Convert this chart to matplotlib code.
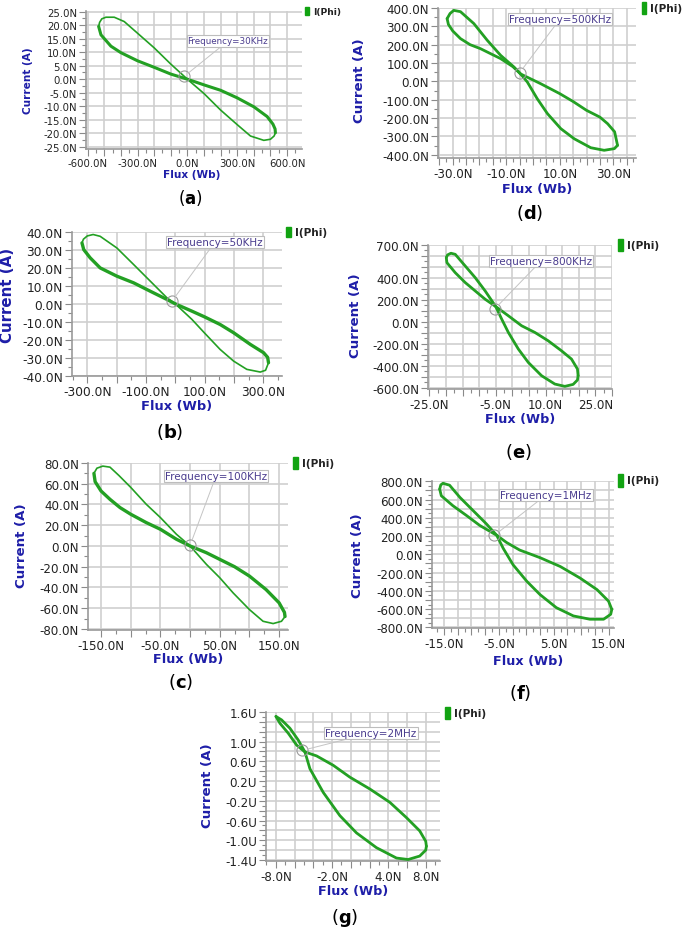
import numpy as np
import matplotlib
matplotlib.use("Agg")
import matplotlib.pyplot as plt
from matplotlib.ticker import MultipleLocator, FuncFormatter
from matplotlib.patches import Rectangle

W, H = 685, 929

# ---- loop data (flux, current) ----
# "flat" branch: left tip -> pinch -> right tip along the shallow edges
# "steep" branch: left tip -> top -> pinch -> bottom -> right tip
a_flat_x = [-534, -520, -460, -400, -300, -200, -100, 0, 100, 200, 300, 400, 480, 515, 528, 530]
a_flat_y = [19.5, 16.4, 12.2, 9.8, 6.8, 4.4, 1.9, 0, -2.1, -4.1, -6.9, -10.2, -13.8, -16.6, -18.4, -19.8]
a_steep_x = [-534, -528, -515, -490, -440, -380, -300, -200, -100, 0, 100, 200, 300, 380, 460, 500, 522, 530]
a_steep_y = [19.5, 21.0, 22.3, 22.9, 22.9, 21.3, 17.0, 11.6, 5.6, 0, -5.3, -11.4, -16.8, -21.0, -22.6, -22.2, -21.0, -19.8]

b_flat_x = [-318, -312, -290, -256, -199, -142, -85, -28, 0, 57, 99, 153, 199, 256, 301, 315, 318]
b_flat_y = [33.9, 30.2, 25.6, 20.0, 15.4, 11.7, 7.0, 2.4, 0, -4.1, -7.2, -11.5, -16.1, -22.6, -27.2, -29.8, -32.8]
b_steep_x = [-318, -313, -300, -280, -256, -199, -142, -85, -28, 0, 57, 99, 153, 199, 244, 290, 308, 318]
b_steep_y = [33.9, 36.0, 37.8, 38.6, 37.6, 31.1, 21.9, 12.6, 3.3, 0, -8.7, -16.1, -25.4, -31.9, -36.5, -38.0, -37.0, -32.8]

c_flat_x = [-162, -160, -150, -135, -118, -100, -74, -50, -23, 0, 27.5, 50, 75, 100, 128, 150, 159, 160]
c_flat_y = [70, 62, 53, 45, 37, 30.6, 22.6, 16.1, 6.5, 0, -6.5, -12.9, -20, -29, -42, -54.8, -64, -68]
c_steep_x = [-162, -157, -147, -135, -120, -100, -74, -50, -23, 0, 27.5, 50, 72.5, 100, 123, 140, 154, 160]
c_steep_y = [70, 75, 77, 76, 68, 56.5, 40.3, 27.4, 11.3, 0, -17.7, -30.6, -45.2, -61.3, -72.6, -74.8, -72.6, -68]

d_flat_x = [-32.1, -31.6, -30.0, -27.1, -23.5, -19.6, -12.1, -7.5, -4.6, 2.9, 10.0, 15.0, 20.0, 25.0, 27.9, 30.5, 31.6]
d_flat_y = [342, 310, 275, 233, 200, 178, 124, 80, 40, -13, -67, -110, -158, -195, -231, -275, -349]
d_steep_x = [-32.1, -31.0, -29.6, -27.1, -22.1, -17.1, -12.1, -7.1, -4.6, -2.1, 1.6, 5.4, 10.4, 15.4, 21.6, 26.6, 30.4, 31.6]
d_steep_y = [342, 370, 387, 380, 315, 224, 142, 78, 40, -4, -95, -176, -258, -313, -362, -376, -367, -349]

e_flat_x = [-19.9, -19.7, -17.2, -14.2, -11.2, -8.2, -5.0, -1.2, 2.8, 6.8, 10.8, 14.8, 17.8, 19.6, 19.8]
e_flat_y = [585, 539, 448, 358, 282, 206, 139, 55, -36, -97, -173, -264, -339, -430, -491]
e_steep_x = [-19.9, -19.5, -18.5, -17.2, -14.2, -11.2, -8.2, -5.0, -3.2, -1.2, 1.8, 4.8, 8.8, 12.8, 15.8, 18.3, 19.6, 19.8]
e_steep_y = [585, 610, 625, 615, 509, 403, 282, 139, 24, -97, -248, -370, -491, -567, -588, -570, -530, -491]

f_flat_x = [-15.8, -15.5, -13.4, -10.9, -8.5, -5.4, -3.6, -1.2, 2.5, 6.2, 9.8, 12.9, 15.0, 15.6]
f_flat_y = [714, 641, 533, 425, 317, 209, 130, 47, -36, -133, -259, -386, -512, -602]
f_steep_x = [-15.8, -15.6, -15.2, -14.0, -12.1, -9.7, -7.3, -5.4, -4.2, -2.4, 0.1, 2.5, 5.5, 8.6, 11.6, 14.1, 15.4, 15.6]
f_steep_y = [714, 760, 778, 757, 623, 479, 335, 209, 65, -115, -295, -440, -584, -674, -710, -710, -656, -602]

g_flat_x = [-7.98, -7.55, -6.67, -5.78, -4.89, -3.65, -1.88, -0.11, 2.02, 4.15, 5.92, 7.34, 7.98, 8.05]
g_flat_y = [1.51, 1.37, 1.17, 0.93, 0.79, 0.71, 0.52, 0.28, 0.04, -0.23, -0.54, -0.81, -1.02, -1.12]
g_steep_x = [-7.98, -7.38, -6.49, -5.60, -4.89, -4.36, -2.94, -1.17, 0.60, 2.73, 4.86, 6.10, 7.34, 7.98, 8.05]
g_steep_y = [1.51, 1.44, 1.27, 1.03, 0.79, 0.45, -0.03, -0.50, -0.85, -1.15, -1.36, -1.39, -1.32, -1.20, -1.12]

# pinch markers (flux, current)
pinch_pts = {"a": (-20, 1.0), "b": (-11, 1.5), "c": (0, 0.6), "d": (-5, 47),
             "e": (-5.2, 121), "f": (-5.8, 209), "g": (-5.2, 0.82)}

freq_text = {"a": "Frequency=30KHz", "b": "Frequency=50KHz", "c": "Frequency=100KHz",
             "d": "Frequency=500KHz", "e": "Frequency=800KHz", "f": "Frequency=1MHz",
             "g": "Frequency=2MHz"}

# tick labels shown on each axis
a_xlabels = [-600, -300, 0, 300, 600]
a_ylabels = [25, 20, 15, 10, 5, 0, -5, -10, -15, -20, -25]
b_xlabels = [-300, -100, 100, 300]
b_ylabels = [40, 30, 20, 10, 0, -10, -20, -30, -40]
c_xlabels = [-150, -50, 50, 150]
c_ylabels = [80, 60, 40, 20, 0, -20, -40, -60, -80]
d_xlabels = [-30, -10, 10, 30]
d_ylabels = [400, 300, 200, 100, 0, -100, -200, -300, -400]
e_xlabels = [-25, -5, 10, 25]
e_ylabels = [700, 400, 200, 0, -200, -400, -600]
f_xlabels = [-15, -5, 5, 15]
f_ylabels = [800, 600, 400, 200, 0, -200, -400, -600, -800]
g_xlabels = [-8, -2, 4, 8]
g_ylabels = [1.6, 1.0, 0.6, 0.2, -0.2, -0.6, -1.0, -1.4]

GREEN = "#23a023"
BLUE = "#1e1ea8"
GRID = "#cfcfcf"
ANN = "#4a3c8e"

# layout in reference pixels: box=(left, top, right, bottom)
panels = [
    dict(key="a", fx=a_flat_x, fy=a_flat_y, sx=a_steep_x, sy=a_steep_y,
         xl=a_xlabels, yl=a_ylabels, unit_y="N",
         box=(86, 12, 302, 150), xlim=(-610, 690), ylim=(-25.8, 25.2),
         xstep=100, ystep=5, lw=(2.2, 1.2), fs=7.3, afs=6.3, lfs=7.6, cfs=7.6,
         cur=(28, 81), flux=(192, 175), tag=(190, 198), tag_fs=12,
         leg=(305, 8, 309, 16), leg_fs=6.6, ann=(228, 42)),
    dict(key="d", fx=d_flat_x, fy=d_flat_y, sx=d_steep_x, sy=d_steep_y,
         xl=d_xlabels, yl=d_ylabels, unit_y="N",
         box=(438, 9, 636, 159), xlim=(-35.5, 38.5), ylim=(-418, 400),
         xstep=5, ystep=100, lw=(2.0, 2.0), fs=8.6, afs=7.5, lfs=9.2, cfs=9.6,
         cur=(360, 81), flux=(537, 189), tag=(530, 213), tag_fs=13,
         leg=(642, 3, 646, 15), leg_fs=7.6, ann=(560, 20)),
    dict(key="b", fx=b_flat_x, fy=b_flat_y, sx=b_steep_x, sy=b_steep_y,
         xl=b_xlabels, yl=b_ylabels, unit_y="N",
         box=(72, 233, 282, 377), xlim=(-352, 364), ylim=(-40.2, 40),
         xstep=100, ystep=10, lw=(2.4, 1.2), fs=8.8, afs=7.5, lfs=9.4, cfs=10.8,
         cur=(8, 295), flux=(177, 407), tag=(170, 432), tag_fs=13,
         leg=(286, 228, 291, 238), leg_fs=7.6, ann=(215, 243)),
    dict(key="e", fx=e_flat_x, fy=e_flat_y, sx=e_steep_x, sy=e_steep_y,
         xl=e_xlabels, yl=e_ylabels, unit_y="N",
         box=(428, 246, 612, 390), xlim=(-25.4, 30.0), ylim=(-612, 700),
         xstep=5, ystep=100, lw=(2.0, 2.0), fs=8.6, afs=7.5, lfs=9.2, cfs=9.6,
         cur=(355, 316), flux=(520, 420), tag=(518, 452), tag_fs=13,
         leg=(618, 240, 623, 252), leg_fs=7.6, ann=(541, 262)),
    dict(key="c", fx=c_flat_x, fy=c_flat_y, sx=c_steep_x, sy=c_steep_y,
         xl=c_xlabels, yl=c_ylabels, unit_y="N",
         box=(88, 464, 288, 631), xlim=(-172, 165), ylim=(-81, 80),
         xstep=50, ystep=20, lw=(2.4, 1.2), fs=8.6, afs=7.5, lfs=9.2, cfs=9.6,
         cur=(22, 546), flux=(188, 660), tag=(181, 682), tag_fs=13,
         leg=(293, 458, 298, 470), leg_fs=7.6, ann=(216, 477)),
    dict(key="f", fx=f_flat_x, fy=f_flat_y, sx=f_steep_x, sy=f_steep_y,
         xl=f_xlabels, yl=f_ylabels, unit_y="N",
         box=(432, 482, 614, 629), xlim=(-17.2, 16.0), ylim=(-806, 803),
         xstep=2.5, ystep=100, lw=(2.0, 2.0), fs=8.6, afs=7.5, lfs=9.2, cfs=9.6,
         cur=(357, 556), flux=(528, 662), tag=(520, 693), tag_fs=13,
         leg=(618, 475, 623, 488), leg_fs=7.6, ann=(546, 496)),
    dict(key="g", fx=g_flat_x, fy=g_flat_y, sx=g_steep_x, sy=g_steep_y,
         xl=g_xlabels, yl=g_ylabels, unit_y="U",
         box=(266, 713, 440, 862), xlim=(-9.04, 9.5), ylim=(-1.42, 1.60),
         xstep=2, ystep=0.2, lw=(2.0, 2.0), fs=8.6, afs=7.5, lfs=9.2, cfs=9.6,
         cur=(207, 786), flux=(353, 892), tag=(345, 918), tag_fs=13,
         leg=(445, 708, 450, 720), leg_fs=7.6, ann=(371, 734)),
]


def fx(x):
    return x / W


def fy(y):
    return 1 - y / H


def label_fmt(values, unit, step):
    def f(v, pos):
        for val in values:
            if abs(v - val) < step * 1e-3:
                s = "%.1f%s" % (val, unit)
                return s.replace("-0.0", "0.0")
        return ""
    return FuncFormatter(f)


plt.rcParams["font.family"] = ["DejaVu Sans"]
fig = plt.figure(figsize=(W / 100, H / 100), dpi=100)

for p in panels:
    l, t, r, b = p["box"]
    ax = fig.add_axes([fx(l), fy(b), (r - l) / W, (b - t) / H])
    ax.plot(p["fx"], p["fy"], color=GREEN, lw=p["lw"][0],
            solid_joinstyle="round", solid_capstyle="round", zorder=3)
    ax.plot(p["sx"], p["sy"], color=GREEN, lw=p["lw"][1],
            solid_joinstyle="round", solid_capstyle="round", zorder=3)
    ax.set_xlim(*p["xlim"])
    ax.set_ylim(*p["ylim"])

    ax.xaxis.set_major_locator(MultipleLocator(p["xstep"]))
    ax.xaxis.set_minor_locator(MultipleLocator(p["xstep"] / 2))
    ax.yaxis.set_major_locator(MultipleLocator(p["ystep"]))
    ax.yaxis.set_minor_locator(MultipleLocator(p["ystep"] / 2))
    ax.xaxis.set_major_formatter(label_fmt(p["xl"], "N", p["xstep"]))
    ax.yaxis.set_major_formatter(label_fmt(p["yl"], p["unit_y"], p["ystep"]))

    ax.grid(True, which="major", color=GRID, lw=1.2)
    ax.set_axisbelow(True)
    for s in ("top", "right"):
        ax.spines[s].set_visible(False)
    for s in ("left", "bottom"):
        ax.spines[s].set_color("#9a9a9a")
        ax.spines[s].set_linewidth(1.2)
    ax.tick_params(which="major", direction="out", length=5, width=0.8,
                   color="#8a8a8a", labelsize=p["fs"], labelcolor="#222222", pad=1.5)
    ax.tick_params(which="minor", direction="out", length=3, width=0.8, color="#8a8a8a")

    # pinch marker and frequency note
    px, py = pinch_pts[p["key"]]
    ax.plot(px, py, marker="o", ms=8, mfc="none", mec="#9a9a9a", mew=0.8, zorder=4)
    axx, axy = p["ann"]
    ax.annotate(freq_text[p["key"]], xy=(px, py), xytext=(fx(axx), fy(axy)),
                textcoords="figure fraction", ha="center", va="center",
                fontsize=p["afs"], color=ANN,
                bbox=dict(boxstyle="square,pad=0.12", fc="white", ec="#bdbdbd", lw=0.8),
                arrowprops=dict(arrowstyle="-", color="#c4c4c4", lw=0.7,
                                shrinkA=0, shrinkB=4),
                zorder=5)

    # axis titles
    cx, cy = p["cur"]
    fig.text(fx(cx), fy(cy), "Current (A)", rotation=90, ha="center", va="center",
             color=BLUE, fontsize=p["cfs"], fontweight="bold")
    lx, ly = p["flux"]
    fig.text(fx(lx), fy(ly), "Flux (Wb)", ha="center", va="center",
             color=BLUE, fontsize=p["lfs"], fontweight="bold")

    # panel tag
    tx, ty = p["tag"]
    fig.text(fx(tx), fy(ty), "($\\mathbf{%s}$)" % p["key"], ha="center", va="center",
             fontsize=p["tag_fs"], color="black")

    # legend swatch
    x0, y0, x1, y1 = p["leg"]
    fig.patches.append(Rectangle((fx(x0), fy(y1)), (x1 - x0) / W, (y1 - y0) / H,
                                 transform=fig.transFigure, color="#12a312"))
    fig.text(fx(x1 + 4), fy((y0 + y1) / 2), "I(Phi)", ha="left", va="center",
             fontsize=p["leg_fs"], fontweight="bold", color="#222222")

fig.savefig("out.png", dpi=100)
